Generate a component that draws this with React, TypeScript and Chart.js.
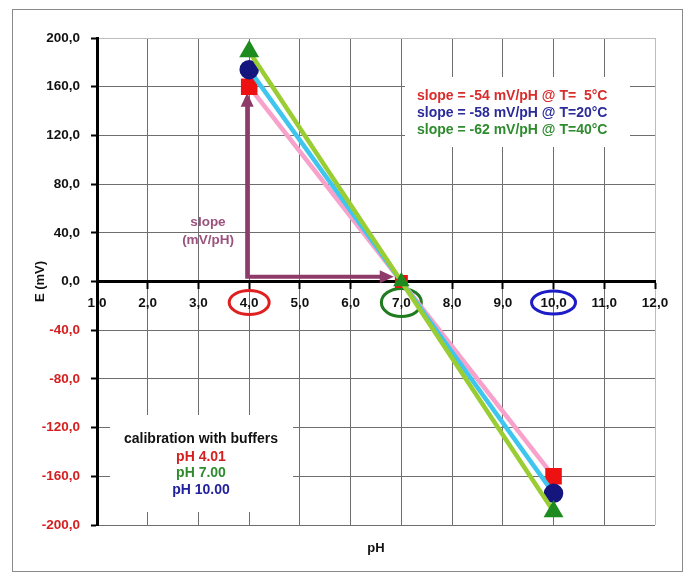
import { useEffect, useRef } from 'react';
import { Chart, registerables } from 'chart.js';

Chart.register(...registerables);

// ---- data ----
const phBuffers = [4, 7, 10];
const e5C = [160, 0, -160];
const e20C = [174, 0, -174];
const e40C = [189, 0, -189];
const xMin = 1;
const xMax = 12;
const yMin = -200;
const yMax = 200;
const yStep = 40;
const legendLines = [
  'slope = -54 mV/pH @ T=  5°C',
  'slope = -58 mV/pH @ T=20°C',
  'slope = -62 mV/pH @ T=40°C',
];
const bufferTitle = 'calibration with buffers';
const bufferLabels = ['pH 4.01', 'pH 7.00', 'pH 10.00'];
const circledTicks = [4, 7, 10];
const arrowOrigin = [4, 4];
const arrowTipY = 155;
const arrowTipX = 6.85;
const slopeLabel = ['slope', '(mV/pH)'];

const FONT = '"Liberation Sans", Arial, sans-serif';
const legendColors = ['#D92C2C', '#2B2B9A', '#2E8B2E'];
const bufferColors = ['#D42020', '#2E8B2E', '#22229E'];
const circleColors = ['#E02020', '#1E7B1E', '#1C1CC8'];
const arrowColor = '#8E3B6A';

const fmt = (v: number) => v.toFixed(1).replace('.', ',');

const decor = {
  id: 'decor',
  beforeDraw(chart: any) {
    const { ctx, width, height } = chart;
    ctx.save();
    ctx.fillStyle = '#fff';
    ctx.fillRect(0, 0, width, height);
    ctx.strokeStyle = '#8a8a8a';
    ctx.lineWidth = 1;
    ctx.strokeRect(12.5, 9.5, 670, 562);
    ctx.restore();
  },
  beforeDatasetsDraw(chart: any) {
    const { ctx, scales } = chart;
    const xs = scales.x;
    const ys = scales.y;
    ctx.save();
    // white text boxes
    ctx.fillStyle = '#fff';
    ctx.fillRect(405, 77, 225, 70);
    ctx.fillRect(110, 415, 183, 97);

    // legend texts
    ctx.font = `bold 14px ${FONT}`;
    ctx.textBaseline = 'middle';
    ctx.textAlign = 'left';
    legendLines.forEach((t, i) => {
      ctx.fillStyle = legendColors[i];
      ctx.fillText(t, 417, 96 + i * 17);
    });

    // buffer box
    ctx.textAlign = 'center';
    ctx.fillStyle = '#111';
    ctx.fillText(bufferTitle, 201, 439);
    bufferLabels.forEach((t, i) => {
      ctx.fillStyle = bufferColors[i];
      ctx.fillText(t, 201, 457 + i * 16.5);
    });

    // slope label
    ctx.font = `bold 13.5px ${FONT}`;
    ctx.fillStyle = '#9A527E';
    ctx.fillText(slopeLabel[0], 208, 222);
    ctx.fillText(slopeLabel[1], 208, 240);

    // circles around tick labels
    const y0 = ys.getPixelForValue(0);
    const radii = [[20, 12], [20, 14], [22, 11.5]];
    circledTicks.forEach((v, i) => {
      ctx.beginPath();
      ctx.strokeStyle = circleColors[i];
      ctx.lineWidth = 3;
      ctx.ellipse(xs.getPixelForValue(v), y0 + 21, radii[i][0], radii[i][1], 0, 0, Math.PI * 2);
      ctx.stroke();
    });

    // arrows
    const ox = xs.getPixelForValue(arrowOrigin[0]) - 2;
    const oy = ys.getPixelForValue(arrowOrigin[1]);
    const ty = ys.getPixelForValue(arrowTipY);
    const tx = xs.getPixelForValue(arrowTipX);
    ctx.strokeStyle = arrowColor;
    ctx.fillStyle = arrowColor;
    ctx.lineWidth = 4;
    ctx.lineCap = 'butt';
    ctx.beginPath();
    ctx.moveTo(ox, ty + 12);
    ctx.lineTo(ox, oy);
    ctx.lineTo(tx - 12, oy);
    ctx.stroke();
    ctx.beginPath();
    ctx.moveTo(ox, ty);
    ctx.lineTo(ox - 6.5, ty + 14);
    ctx.lineTo(ox + 6.5, ty + 14);
    ctx.closePath();
    ctx.fill();
    ctx.beginPath();
    ctx.moveTo(tx, oy);
    ctx.lineTo(tx - 14, oy - 6.5);
    ctx.lineTo(tx - 14, oy + 6.5);
    ctx.closePath();
    ctx.fill();
    ctx.restore();
  },
  afterDraw(chart: any) {
    const { ctx, chartArea } = chart;
    ctx.save();
    ctx.fillStyle = '#111';
    ctx.font = `bold 13px ${FONT}`;
    ctx.textAlign = 'center';
    ctx.textBaseline = 'middle';
    ctx.fillText('pH', (chartArea.left + chartArea.right) / 2, 548);
    ctx.translate(40, (chartArea.top + chartArea.bottom) / 2);
    ctx.rotate(-Math.PI / 2);
    ctx.fillText('E (mV)', 0, 0);
    ctx.restore();
  },
};

export default function App() {
  const ref = useRef<HTMLCanvasElement | null>(null);
  useEffect(() => {
    document.body.style.margin = '0';
    const mk = (vals: number[]) => phBuffers.map((x, i) => ({ x, y: vals[i] }));
    const chart = new Chart(ref.current as HTMLCanvasElement, {
      type: 'line',
      data: {
        datasets: [
          {
            label: '5°C',
            data: mk(e5C),
            borderColor: '#F7A1CB',
            backgroundColor: '#EE1111',
            pointBackgroundColor: '#EE1111',
            pointBorderColor: '#EE1111',
            borderWidth: 4.5,
            pointStyle: 'rect',
            pointRadius: [8.5, 6, 8.5],
            order: 3,
          },
          {
            label: '20°C',
            data: mk(e20C),
            borderColor: '#3FC6EE',
            pointBackgroundColor: '#15157E',
            pointBorderColor: '#15157E',
            borderWidth: 4.5,
            pointStyle: 'circle',
            pointRadius: [7.5, 0, 7.5],
            order: 2,
          },
          {
            label: '40°C',
            data: mk(e40C),
            borderColor: '#9ACD32',
            pointBackgroundColor: '#1E8B1E',
            pointBorderColor: '#1E8B1E',
            borderWidth: 4.5,
            pointStyle: 'triangle',
            pointRadius: [7, 5, 7],
            order: 1,
          },
        ],
      },
      options: {
        animation: false,
        responsive: false,
        devicePixelRatio: 1,
        layout: { padding: { top: 38, right: 31, left: 0, bottom: 49 } },
        plugins: { legend: { display: false }, tooltip: { enabled: false } },
        scales: {
          x: {
            type: 'linear',
            min: xMin,
            max: xMax,
            position: { y: 0 } as any,
            afterFit: (s: any) => { s.height = 20; },
            ticks: {
              stepSize: 1,
              callback: (v: any) => fmt(Number(v)),
              color: '#111',
              font: { family: FONT, weight: 'bold', size: 13.5 },
              padding: 8,
              maxRotation: 0,
            },
            grid: {
              color: (c: any) => (c.tick && c.tick.value === xMax ? '#BDBDBD' : '#6E6E6E'),
              lineWidth: 1,
              tickColor: '#000',
              tickLength: 6,
              tickWidth: 2,
            },
            border: { color: '#000', width: 3 },
          },
          y: {
            type: 'linear',
            min: yMin,
            max: yMax,
            afterFit: (s: any) => { s.width = 97; },
            ticks: {
              stepSize: yStep,
              callback: (v: any) => fmt(Number(v)),
              color: (c: any) => (c.tick && c.tick.value < 0 ? '#D42020' : '#111'),
              font: { family: FONT, weight: 'bold', size: 13.5 },
              padding: 11,
            },
            grid: {
              color: (c: any) => (c.tick && c.tick.value === yMax ? '#BDBDBD' : '#6E6E6E'),
              lineWidth: 1,
              tickColor: '#000',
              tickLength: 6,
              tickWidth: 2,
            },
            border: { color: '#000', width: 3 },
          },
        },
      } as any,
      plugins: [decor],
    });
    return () => chart.destroy();
  }, []);
  return <canvas ref={ref} width={686} height={574} style={{ display: 'block' }} />;
}
